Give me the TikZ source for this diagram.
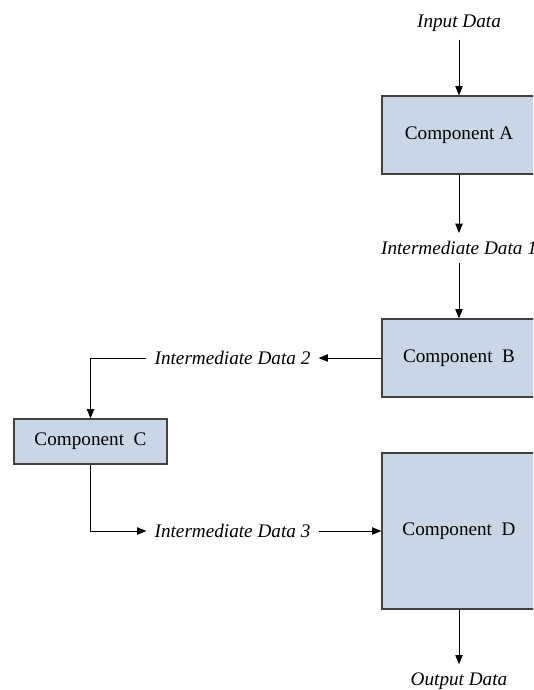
\documentclass[tikz,border=0pt]{standalone}
\usepackage{fontspec}
\setmainfont{Liberation Serif}
\usetikzlibrary{arrows.meta}
\definecolor{boxfill}{RGB}{201,214,229}
\definecolor{boxline}{RGB}{64,64,64}
\begin{document}
\begin{tikzpicture}[x=0.75pt,y=-0.75pt,
  font=\fontsize{14.4pt}{17pt}\selectfont,
  component/.style={draw=boxline,line width=0.9pt,fill=boxfill,inner sep=0pt,
    minimum width=115.5pt},
  datalabel/.style={font=\fontsize{14.4pt}{17pt}\selectfont\itshape,inner sep=6pt},
  flow/.style={line width=0.75pt,-{Triangle[length=7pt,width=5.5pt]}},
  link/.style={line width=0.75pt}]
\useasboundingbox (0,0) rectangle (533,690);
\clip (0,0) rectangle (533,690);

% components
\node[component,minimum height=58.5pt] (A) at (459,135) {Component A};
\node[component,minimum height=58.5pt] (B) at (459,358) {Component~~B};
\node[component,minimum width=114.75pt,minimum height=33.75pt] (C) at (90.5,441.5) {Component~~C};
\node[component,minimum height=117pt] (D) at (459,531) {Component~~D};

% data labels
\node[datalabel] (in)  at (459,23)    {Input Data};
\node[datalabel] (d1)  at (459,248)   {Intermediate Data 1};
\node[datalabel] (d2)  at (232.5,358) {Intermediate Data 2};
\node[datalabel] (d3)  at (232.5,531) {Intermediate Data 3};
\node[datalabel] (out) at (459,681)   {Output Data};

% data flow
\draw[flow] (in.south) -- (A.north);
\draw[flow] (A.south) -- (d1.north);
\draw[flow] (d1.south) -- (B.north);
\draw[flow] (B.west) -- (d2.east);
\draw[flow] (d2.west) -| (C.north);
\draw[flow] (C.south) |- (d3.west);
\draw[flow] (d3.east) -- (D.west);
\draw[flow] (D.south) -- (out.north);
\end{tikzpicture}
\end{document}
